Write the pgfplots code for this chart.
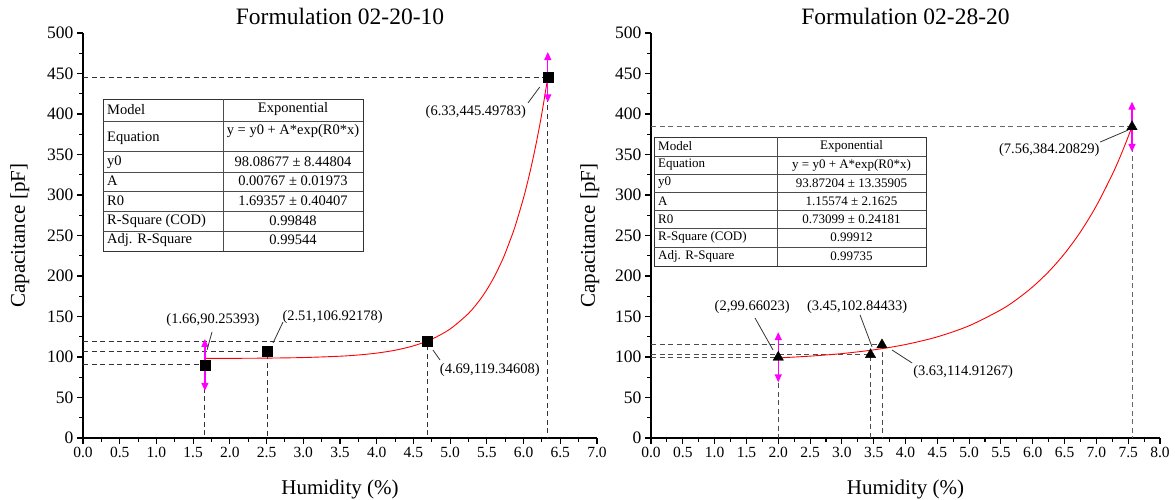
\documentclass[border=0pt]{standalone}
\usepackage{fontspec}
\setmainfont{Liberation Serif}
\usepackage{pgfplots}
\usepackage{pgfplotstable}
\pgfplotsset{compat=1.18}
\usetikzlibrary{arrows.meta}
\definecolor{errmag}{RGB}{255,0,255}

\pgfplotstableread{
x y
1.66 90.25393
2.51 106.92178
4.69 119.34608
6.33 445.49783
}\dataA
\pgfplotstableread{
x y
2.00 99.66023
3.45 102.84433
3.63 114.91267
7.56 384.20829
}\dataB
% fitted curves (values of the fitted exponentials)
\pgfplotstableread{
x y
1.66 98.21
2.0 98.31
2.5 98.62
3.0 99.32
3.5 100.97
3.75 102.48
4.0 104.80
4.25 108.34
4.5 113.74
4.75 122.0
5.0 134.6
5.25 153.8
5.4 169.95
5.5 183.2
5.6 198.9
5.7 217.5
5.75 228.1
5.85 252.1
5.9 265.7
6.0 296.6
6.05 314.2
6.1 333.3
6.15 354.1
6.2 376.7
6.25 401.3
6.33 445.3
}\fitA
\pgfplotstableread{
x y
2.0 98.86
2.5 101.06
3.0 104.23
3.5 108.80
4.0 115.39
4.5 124.88
5.0 138.56
5.5 158.28
5.75 171.19
6.0 186.70
6.25 205.30
6.5 227.66
6.75 254.47
7.0 286.68
7.25 325.35
7.4 352.16
7.56 384.2
}\fitB

\tikzset{
  lead/.style={black!80, line width=0.8pt},
  plab/.style={font=\fontsize{14.5}{15}\selectfont},
}
\pgfplotsset{
  myaxis/.style={
    scale only axis, height=405pt,
    xmin=0, ymin=0, ymax=500,
    axis x line=bottom, axis y line=left,
    axis line style={-, line width=1.3pt, black},
    tick align=outside,
    every tick/.style={black, line width=1.1pt},
    major tick length=6pt, minor tick length=4pt,
    ytick={0,50,...,500}, minor y tick num=1,
    minor x tick num=1,
    /pgf/number format/assume math mode=true,
    xticklabel style={font=\fontsize{15.5}{16}\selectfont, /pgf/number format/.cd, fixed, fixed zerofill, precision=1},
    yticklabel style={font=\fontsize{17.5}{18}\selectfont},
    title style={font=\fontsize{23.5}{24}\selectfont, at={(axis description cs:0.5,1.027)}, anchor=center},
    xlabel style={font=\fontsize{21}{22}\selectfont, at={(axis description cs:0.5,-0.128)}, anchor=center},
    ylabel style={font=\fontsize{21}{22}\selectfont, anchor=center},
    xlabel={Humidity (\%)}, ylabel={Capacitance [pF]},
    clip=false,
  },
  dropline/.style={black!80, line width=0.9pt, dash pattern=on 5pt off 3.5pt},
  fitline/.style={red, line width=0.9pt, smooth},
  errbar/.style={draw=none, mark=none, forget plot,
    error bars/.cd, y dir=both, y explicit, error mark=none,
    error bar style={errmag, line width=1.3pt, -{Triangle[length=8pt,width=7pt]}}},
}

\begin{document}
\begin{tikzpicture}
\useasboundingbox (0,0) rectangle (1175pt,500pt);

% ---------------- left panel ----------------
\begin{axis}[myaxis, at={(83pt,62pt)}, anchor=south west, width=514pt,
  xmax=7, xtick={0,0.5,...,7},
  title={Formulation 02-20-10},
  ylabel style={at={(axis description cs:-0.123,0.5)}}]
\addplot[dropline] coordinates {(0,90.25393) (1.66,90.25393) (1.66,0)};
\addplot[dropline] coordinates {(0,106.92178) (2.51,106.92178) (2.51,0)};
\addplot[dropline] coordinates {(0,119.34608) (4.69,119.34608) (4.69,0)};
\addplot[dropline] coordinates {(0,445.49783) (6.33,445.49783) (6.33,0)};
\addplot[fitline] table[x=x,y=y] {\fitA};
\addplot[errbar] coordinates {(1.66,90.25393) +- (0,32) (6.33,445.49783) +- (0,31)};
\addplot[only marks, mark=square*, mark size=5pt, black] table[x=x,y=y] {\dataA};
\node[plab] at (axis cs:1.77,145.7) {(1.66,90.25393)};
\draw[lead] (axis cs:1.757,131) -- (axis cs:1.689,108.6);
\node[plab] at (axis cs:3.40,149.4) {(2.51,106.92178)};
\draw[lead] (axis cs:2.724,143.2) -- (axis cs:2.588,117.3);
\node[plab] at (axis cs:5.54,84) {(4.69,119.34608)};
\draw[lead] (axis cs:4.766,108.6) -- (axis cs:4.862,96.3);
\node[plab] at (axis cs:5.35,402.5) {(6.33,445.49783)};
\draw[lead] (axis cs:6.06,413.6) -- (axis cs:6.22,433.3);
\end{axis}

% ---------------- right panel ----------------
\begin{axis}[myaxis, at={(651pt,62pt)}, anchor=south west, width=509pt,
  xmax=8, xtick={0,0.5,...,8},
  title={Formulation 02-28-20},
  ylabel style={at={(axis description cs:-0.12,0.5)}}]
\addplot[dropline, black!70] coordinates {(0,99.66023) (2,99.66023) (2,0)};
\addplot[dropline, black!70] coordinates {(0,102.84433) (3.45,102.84433) (3.45,0)};
\addplot[dropline, black!70] coordinates {(0,114.91267) (3.63,114.91267) (3.63,0)};
\addplot[dropline, black!60] coordinates {(0,384.20829) (7.56,384.20829) (7.56,0)};
\addplot[fitline] table[x=x,y=y] {\fitB};
\addplot[errbar] coordinates {(2,99.66023) +- (0,31) (7.56,384.20829) +- (0,31)};
\addplot[only marks, mark=triangle*, mark size=6pt, black] table[x=x,y=y] {\dataB};
\node[plab] at (axis cs:1.59,161.7) {(2,99.66023)};
\draw[lead] (axis cs:1.635,148.1) -- (axis cs:1.918,108.6);
\node[plab] at (axis cs:3.24,161.7) {(3.45,102.84433)};
\draw[lead] (axis cs:3.286,151.9) -- (axis cs:3.475,112.3);
\node[plab] at (axis cs:4.906,81.5) {(3.63,114.91267)};
\draw[lead] (axis cs:4.104,92.6) -- (axis cs:3.789,108.6);
\node[plab] at (axis cs:6.26,355.6) {(7.56,384.20829)};
\draw[lead] (axis cs:7.06,365.4) -- (axis cs:7.50,380.2);
\end{axis}

% ---------------- fit tables (pixel coords, y downwards) ----------------
\begin{scope}[x=1pt, y=-1pt, shift={(0pt,500pt)}]
  % left table
  \fill[white] (103,99) rectangle (363,251);
  \draw[black!80, line width=0.8pt] (103,99) rectangle (363,251);
  \draw[black!70, line width=0.6pt] (223,99) -- (223,251);
  \foreach \yy in {121,151,172,191,211,231} \draw[black!70, line width=0.6pt] (103,\yy) -- (363,\yy);
  \begin{scope}[every node/.style={font=\fontsize{14.5}{15}\selectfont, inner sep=0pt}]
  \node[anchor=west] at (107,110) {Model};
  \node at (293,109) {Exponential};
  \node[anchor=west] at (107,138) {Equation};
  \node at (293,131) {y = y0 + A*exp(R0*x)};
  \node[anchor=west] at (107,162) {y0};
  \node at (293,162) {98.08677 ± 8.44804};
  \node[anchor=west] at (107,181) {A};
  \node at (293,181) {0.00767 ± 0.01973};
  \node[anchor=west] at (107,201) {R0};
  \node at (293,201) {1.69357 ± 0.40407};
  \node[anchor=west] at (107,221) {R-Square (COD)};
  \node at (293,221) {0.99848};
  \node[anchor=west] at (107,240) {Adj. R-Square};
  \node at (293,240) {0.99544};
  \end{scope}
  % right table
  \fill[white] (654,137) rectangle (926,266);
  \draw[black!80, line width=0.8pt] (654,137) rectangle (926,266);
  \draw[black!70, line width=0.6pt] (777,137) -- (777,266);
  \foreach \yy in {156,174,192,210,228,247} \draw[black!70, line width=0.6pt] (654,\yy) -- (926,\yy);
  \begin{scope}[every node/.style={font=\fontsize{13}{14}\selectfont, inner sep=0pt}]
  \node[anchor=west] at (658,146.5) {Model};
  \node at (851.5,146.5) {Exponential};
  \node[anchor=west] at (658,165) {Equation};
  \node at (851.5,165) {y = y0 + A*exp(R0*x)};
  \node[anchor=west] at (658,183) {y0};
  \node at (851.5,183) {93.87204 ± 13.35905};
  \node[anchor=west] at (658,201) {A};
  \node at (851.5,201) {1.15574 ± 2.1625};
  \node[anchor=west] at (658,219) {R0};
  \node at (851.5,219) {0.73099 ± 0.24181};
  \node[anchor=west] at (658,237.5) {R-Square (COD)};
  \node at (851.5,237.5) {0.99912};
  \node[anchor=west] at (658,256.5) {Adj. R-Square};
  \node at (851.5,256.5) {0.99735};
  \end{scope}
\end{scope}
\end{tikzpicture}
\end{document}
